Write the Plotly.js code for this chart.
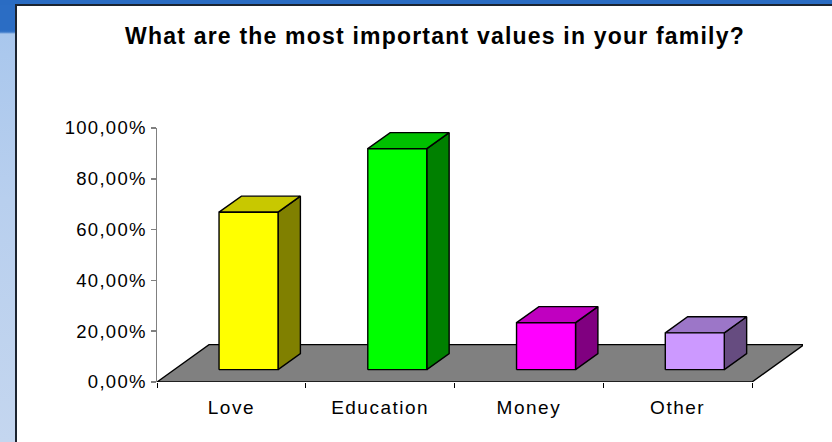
<!DOCTYPE html>
<html>
<head>
<meta charset="utf-8">
<script src="https://cdn.plot.ly/plotly-3.0.1.min.js"></script>
<style>
  html, body { margin: 0; padding: 0; }
  #frame { position: relative; width: 832px; height: 442px; overflow: hidden;
    background: linear-gradient(to bottom, #2B6DC4 0px, #2B6DC4 30px, #3A78C8 32px, #A9C7ED 34px, #B8CFEE 200px, #C4D6EF 442px); }
  #topbar { position: absolute; left: 0; top: 0; width: 832px; height: 5px; background: #2A6CC3; }
  #panel { position: absolute; left: 15px; top: 4px; width: 817px; height: 438px; background: #fff;
    border-left: 2px solid #1c2430; border-top: 2px solid #1c2430; box-sizing: border-box; }
  #chart { position: absolute; left: 17px; top: 6px; width: 815px; height: 436px; }
  #chart .ytick text { letter-spacing: 1.3px; }
  #chart .xtick text { letter-spacing: 1.5px; }
  #chart .gtitle { letter-spacing: 1.2px; }
</style>
</head>
<body>
<div id="frame">
  <div id="topbar"></div>
  <div id="panel"></div>
  <div id="chart"></div>
</div>
<script>
// ---- data ----
const categories = ['Love', 'Education', 'Money', 'Other'];
const values = [0.62, 0.87, 0.185, 0.145];
const yTickVals = [0, 0.2, 0.4, 0.6, 0.8, 1.0];
const titleText = 'What are the most important values in your family?';

// ---- style ----
const frontColors = ['#FFFF00', '#00FF00', '#FF00FF', '#CC99FF'];
const topColors   = ['#C8C800', '#00C000', '#C000C0', '#9C76C8'];
const sideColors  = ['#808000', '#008000', '#800080', '#664C80'];

// oblique projection parameters (data units)
const unitX = 148.75, unitY = 255;            // px per data unit
const DX = 52 / unitX, DY = 37.5 / unitY;     // full floor depth offset
const D1 = 0.33, D2 = 0.76;                   // bar depth (fraction of floor depth)
const BW = 59 / unitX;                        // bar width
const nCat = categories.length;

function proj(x, y, d) { return [x + d * DX, y + d * DY]; }
function poly(pts, fill, name) {
  const xs = pts.map(p => p[0]), ys = pts.map(p => p[1]);
  xs.push(xs[0]); ys.push(ys[0]);
  return { type: 'scatter', mode: 'lines', x: xs, y: ys, fill: 'toself',
    fillcolor: fill, line: { color: '#000', width: 1.4 }, hoverinfo: 'skip',
    showlegend: false, name: name };
}

const traces = [];
// floor
traces.push(poly([proj(-0.5, 0, 0), proj(nCat - 0.5, 0, 0), proj(nCat - 0.5, 0, 1), proj(-0.5, 0, 1)], '#808080', 'floor'));

categories.forEach((c, i) => {
  const v = values[i];
  const xl = i - BW / 2, xr = i + BW / 2;
  traces.push(poly([proj(xr, 0, D1), proj(xr, 0, D2), proj(xr, v, D2), proj(xr, v, D1)], sideColors[i], c));
  traces.push(poly([proj(xl, v, D1), proj(xr, v, D1), proj(xr, v, D2), proj(xl, v, D2)], topColors[i], c));
  traces.push(poly([proj(xl, 0, D1), proj(xr, 0, D1), proj(xr, v, D1), proj(xl, v, D1)], frontColors[i], c));
});

const W = 815, H = 436;
const mLeft = 157 - 17, mTop = 127.5 - 6;
const plotW = 646, plotH = 255;

const layout = {
  width: W, height: H,
  margin: { l: mLeft, t: mTop, r: W - mLeft - plotW, b: H - mTop - plotH, pad: 0 },
  paper_bgcolor: 'rgba(0,0,0,0)', plot_bgcolor: 'rgba(0,0,0,0)',
  separators: ',.',
  showlegend: false,
  font: { family: 'Liberation Sans, Arial, sans-serif', size: 19, color: '#000' },
  title: { text: '<b>' + titleText + '</b>', x: (435 - 17) / W, xanchor: 'center', xref: 'container',
    y: 1 - (36 - 6) / H, yanchor: 'middle', yref: 'container',
    font: { family: 'Liberation Sans, Arial, sans-serif', size: 23, color: '#000' } },
  xaxis: {
    range: [-0.5, -0.5 + plotW / unitX], showgrid: false, zeroline: false, showline: false,
    tickvals: categories.map((c, i) => i), ticktext: categories,
    ticks: 'outside', ticklen: 8, tickcolor: 'rgba(0,0,0,0)',
    minor: { tickvals: categories.map((c, i) => i - 0.5).concat([nCat - 0.5]), ticks: 'outside', ticklen: 5, tickcolor: '#000', tickwidth: 1, showgrid: false },
    tickfont: { size: 19 }, fixedrange: true
  },
  yaxis: {
    range: [0, 1], showgrid: false, zeroline: false, showline: true, linecolor: '#808080', linewidth: 1.5,
    tickvals: yTickVals, tickformat: '.2%', ticks: 'outside', ticklen: 5, tickcolor: '#808080', tickwidth: 1.5,
    tickfont: { size: 18.5 }, fixedrange: true
  }
};

Plotly.newPlot('chart', traces, layout, { staticPlot: true, displayModeBar: false });
</script>
</body>
</html>
